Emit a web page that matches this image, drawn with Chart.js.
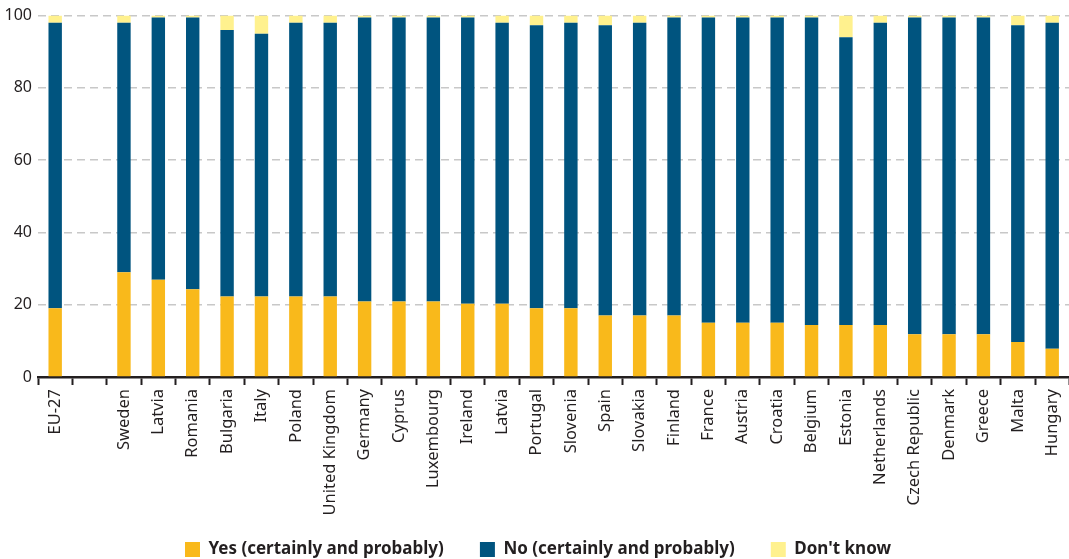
<!DOCTYPE html>
<html><head><meta charset="utf-8">
<script src="https://cdn.jsdelivr.net/npm/chart.js@4.4.1/dist/chart.umd.min.js"></script>
<style>html,body{margin:0;padding:0;overflow:hidden;background:#fff}#wrap{width:1076px;height:559px;position:relative}</style>
</head><body><div id="wrap"><canvas id="c"></canvas></div>
<script>
const categories = ["EU-27","","Sweden","Latvia","Romania","Bulgaria","Italy","Poland","United Kingdom","Germany","Cyprus","Luxembourg","Ireland","Latvia","Portugal","Slovenia","Spain","Slovakia","Finland","France","Austria","Croatia","Belgium","Estonia","Netherlands","Czech Republic","Denmark","Greece","Malta","Hungary"];
const yesValues = [19,null,29,26.9,24.3,22.3,22.3,22.3,22.3,20.9,20.9,20.9,20.3,20.3,19,19,17,17,17,15,15,15,14.4,14.4,14.4,11.8,11.8,11.8,9.7,7.8];
const noValues = [79,null,69,72.6,75.2,73.7,72.7,75.7,75.7,78.6,78.6,78.6,79.2,77.7,78.3,79,80.3,81,82.5,84.5,84.5,84.5,85.1,79.6,83.6,87.7,87.7,87.7,87.6,90.2];
const dkValues = [2,null,2,0.5,0.5,4,5,2,2,0.5,0.5,0.5,0.5,2,2.7,2,2.7,2,0.5,0.5,0.5,0.5,0.5,6,2,0.5,0.5,0.5,2.7,2];
const yTicks = [0,20,40,60,80,100];
const seriesLabels = ["Yes (certainly and probably)","No (certainly and probably)","Don't know"];
const colors = ["#f9b91b","#00547f","#fff18e"];
const txt = "#231f20";
const ds = [yesValues,noValues,dkValues].map((d,i)=>({label:seriesLabels[i],data:d,backgroundColor:colors[i],borderWidth:0,categoryPercentage:1,barPercentage:0.39}));
new Chart(document.getElementById('c'),{
  type:'bar',
  data:{labels:categories,datasets:ds},
  options:{
    responsive:true,maintainAspectRatio:false,animation:false,
    layout:{padding:{top:8,left:0,right:0,bottom:-9}},
    plugins:{tooltip:{enabled:false},
      legend:{position:'bottom',labels:{boxWidth:15,boxHeight:15,padding:14,color:txt,font:{family:'Noto Sans',size:17,weight:'bold'},
        generateLabels:(chart)=>{
          const items = Chart.defaults.plugins.legend.labels.generateLabels(chart);
          items.forEach((it,i)=>{ if(i<items.length-1) it.text = it.text + '     '; });
          return items;
        }}}},
    scales:{
      x:{stacked:true,
        grid:{offset:true,drawOnChartArea:false,drawTicks:true,tickLength:8,tickWidth:2,tickColor:txt},
        border:{display:true,color:txt,width:2.5},
        ticks:{color:txt,font:{family:'Noto Sans',size:16.5},minRotation:90,maxRotation:90,autoSkip:false,padding:4},
        afterFit:(s)=>{s.height=150;}
      },
      y:{stacked:true,min:0,max:100,
        afterBuildTicks:(s)=>{s.ticks=yTicks.map(v=>({value:v}));},
        grid:{color:(c)=>c.tick.value===0?'rgba(0,0,0,0)':'#c8c8c8',lineWidth:1.5,drawTicks:false},
        border:{display:false,dash:[8,5]},
        ticks:{color:txt,font:{family:'Noto Sans',size:16},padding:6},
        afterFit:(s)=>{s.width=38;}
      }
    }
  }
});
</script></body></html>
